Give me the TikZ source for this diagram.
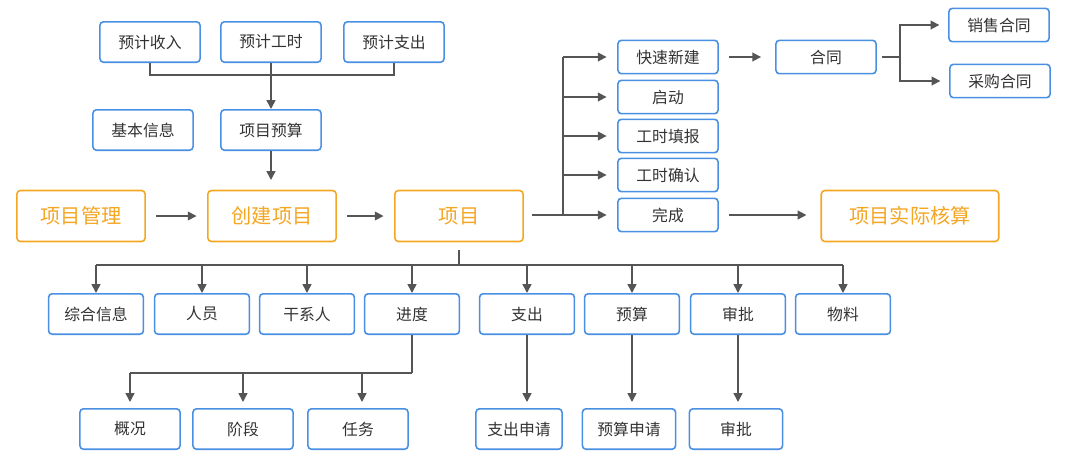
\documentclass[tikz,border=0pt]{standalone}
\usepackage{fontspec}
\setmainfont{Noto Sans CJK SC}
\usetikzlibrary{arrows.meta}
\definecolor{boxblue}{RGB}{74,144,226}
\definecolor{boxorange}{RGB}{245,166,35}
\definecolor{linegray}{RGB}{85,85,85}
\definecolor{textgray}{RGB}{51,51,51}
\tikzset{
	small/.style={draw=boxblue, line width=0.9pt, rounded corners=2pt, fill=white, text=textgray, font=\fontsize{9}{10}\selectfont, minimum width=57pt, minimum height=23pt, inner sep=0pt},
	thin/.style={small, minimum height=19pt},
	big/.style={draw=boxorange, line width=0.9pt, rounded corners=2pt, fill=white, text=boxorange, font=\fontsize{11.5}{13}\selectfont, minimum width=73pt, minimum height=29pt, inner sep=0pt},
	link/.style={draw=linegray, line width=0.9pt},
	arr/.style={link, -{Triangle[length=5pt,width=5pt]}}
}
\begin{document}
\begin{tikzpicture}[x=0.02cm, y=-0.02cm]
	\useasboundingbox (0,0) rectangle (1080,458);

	% верхний ряд
	\node [small] (inc) at ( 150, 42 ) {预计收入};
	\node [small] (hrs) at ( 271, 42 ) {预计工时};
	\node [small] (exp) at ( 394, 42 ) {预计支出};
	\node [small] (info) at ( 143, 130 ) {基本信息};
	\node [small] (bud) at ( 271, 130 ) {项目预算};

	% главная линия
	\node [big] (mgmt) at ( 81, 216 ) {项目管理};
	\node [big] (create) at ( 272, 216 ) {创建项目};
	\node [big] (proj) at ( 459, 216 ) {项目};
	\node [big, minimum width=101pt] (calc) at ( 910, 216 ) {项目实际核算};

	% правая ветка
	\node [thin] (quick) at ( 668, 57 ) {快速新建};
	\node [thin] (start) at ( 668, 97 ) {启动};
	\node [thin] (fill) at ( 668, 136 ) {工时填报};
	\node [thin] (conf) at ( 668, 175 ) {工时确认};
	\node [thin] (done) at ( 668, 215 ) {完成};
	\node [thin] (contr) at ( 826, 57 ) {合同};
	\node [thin] (sale) at ( 999, 25 ) {销售合同};
	\node [thin] (buy) at ( 1000, 81 ) {采购合同};

	% нижний ряд
	\node [small, minimum width=54pt] (gen) at ( 96, 314 ) {综合信息};
	\node [small, minimum width=54pt] (staff) at ( 202, 314 ) {人员};
	\node [small, minimum width=54pt] (stake) at ( 307, 314 ) {干系人};
	\node [small, minimum width=54pt] (prog) at ( 412, 314 ) {进度};
	\node [small, minimum width=54pt] (spend) at ( 527, 314 ) {支出};
	\node [small, minimum width=54pt] (budg) at ( 632, 314 ) {预算};
	\node [small, minimum width=54pt] (appr) at ( 738, 314 ) {审批};
	\node [small, minimum width=54pt] (mat) at ( 843, 314 ) {物料};

	\node [small] (over) at ( 130, 429 ) {概况};
	\node [small] (stage) at ( 243, 429 ) {阶段};
	\node [small] (task) at ( 358, 429 ) {任务};
	\node [small, minimum width=49pt] (sreq) at ( 519, 429 ) {支出申请};
	\node [small, minimum width=53pt] (breq) at ( 629, 429 ) {预算申请};
	\node [small, minimum width=53pt] (areq) at ( 736, 429 ) {审批};

	% связи сверху
	\coordinate (top) at ( 271, 75 );
	\draw [link] (inc.south) |- (top) -| (exp.south);
	\draw [link] (hrs.south) -- (top);
	\draw [arr] (top) -- (bud.north);
	\draw [arr] (bud.south) -- ( 271, 180 );

	\draw [arr] ([xshift=6pt]mgmt.east) -- ([xshift=-6pt]create.west);
	\draw [arr] ([xshift=6pt]create.east) -- ([xshift=-6pt]proj.west);

	% правая ветка
	\coordinate (fork) at ( 563, 215 );
	\draw [link] ( 532, 215 ) -- (fork);
	\draw [link] (fork) -- ( 563, 57 );
	\foreach \n in {quick, start, fill, conf, done}
		\draw [arr] (fork |- \n) -- ([xshift=-6pt]\n.west);
	\draw [arr] ([xshift=6pt]quick.east) -- ([xshift=-8pt]contr.west);
	\coordinate (cfork) at ( 900, 57 );
	\draw [link] ([xshift=3pt]contr.east) -- (cfork);
	\draw [arr] (cfork) |- ([xshift=-5pt]sale.west);
	\draw [arr] (cfork) |- ([xshift=-5pt]buy.west);
	\draw [arr] ([xshift=6pt]done.east) -- ([xshift=-8pt]calc.west |- done);

	% нижняя ветка
	\coordinate (bot) at ( 459, 265 );
	\draw [link] ( 459, 250 ) -- (bot);
	\draw [link] (gen |- bot) -- (mat |- bot);
	\foreach \n in {gen, staff, stake, prog, spend, budg, appr, mat}
		\draw [arr] (\n |- bot) -- (\n.north);

	\coordinate (pbot) at ( 412, 373 );
	\draw [link] (prog.south) -- (pbot);
	\draw [link] (over |- pbot) -- (pbot);
	\foreach \x in {130, 243, 362}
		\draw [arr] ( \x, 373 ) -- ( \x, 402 );
	\draw [arr] (spend.south) -- ( 527, 402 );
	\draw [arr] (budg.south) -- ( 632, 402 );
	\draw [arr] (appr.south) -- ( 738, 402 );
\end{tikzpicture}
\end{document}
